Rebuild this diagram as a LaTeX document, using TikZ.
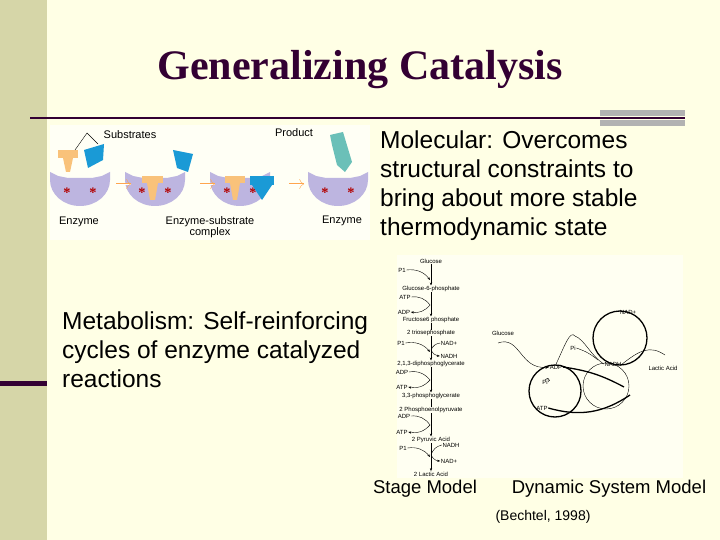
\documentclass[tikz,border=0pt]{standalone}
\usepackage{fontspec}
\setmainfont{Liberation Serif}
\setsansfont{Liberation Sans}
\usetikzlibrary{arrows.meta}
\definecolor{bg}{HTML}{FFFFE5}
\definecolor{bar}{HTML}{D6D6A8}
\definecolor{ttl}{HTML}{330033}
\definecolor{lav}{HTML}{BDB5E0}
\definecolor{org}{HTML}{F9C27A}
\definecolor{blu}{HTML}{1A9AD6}
\definecolor{teal}{HTML}{6BC0B8}
\begin{document}
\begin{tikzpicture}[x=1pt,y=-1pt,
  body/.style={font=\sffamily\fontsize{24.5}{29}\selectfont,align=left,anchor=north west,inner sep=0},
  tiny/.style={font=\sffamily\fontsize{6}{7}\selectfont,inner sep=0.5},
  lab/.style={font=\sffamily\fontsize{11}{11.5}\selectfont,inner sep=0},
  captxt/.style={font=\sffamily\fontsize{18.5}{22}\selectfont,inner sep=0},
  ar/.style={-{Stealth[length=3pt]},thin},
  cyc/.style={line width=1.3pt}]
\useasboundingbox (0,0) rectangle (720,540);
\fill[bg] (0,0) rectangle (720,540);
\fill[bar] (0,0) rectangle (47,540);
\fill[ttl] (0,381) rectangle (47,386);
\node[font=\fontsize{42}{48}\selectfont\bfseries,text=ttl] (title) at (360,70) {Generalizing Catalysis};
\draw[ttl,line width=1.5pt] (30,118) -- (685,118);
\fill[gray!60] (600,110) rectangle (685,116);
\fill[gray!60] (600,120) rectangle (685,126);
% enzyme image
\fill[white!60!bg] (50,125) rectangle (370,240);
\foreach \cx/\nm in {80/e1,155/e2,240/e3,338/e4}{
  \fill[lav] (\cx-30,180) arc(180:0:30 and 26) -- (\cx+30,172) -- (\cx+22,176) -- (\cx+12,178) -- (\cx-12,178) -- (\cx-22,176) -- (\cx-30,172) -- cycle;
  \node[text=red!70!black,font=\bfseries\Large] (\nm a) at (\cx-13,193) {*};
  \node[text=red!70!black,font=\bfseries\Large] (\nm b) at (\cx+13,193) {*};
}
\fill[org] (58,150) rectangle (78,158); \fill[org] (63,158) -- (73,158) -- (70,172) -- (66,172) -- cycle;
\fill[blu] (84,150) -- (104,144) -- (103,160) -- (88,168) -- cycle;
\fill[blu] (173,150) -- (193,154) -- (188,172) -- (177,168) -- cycle;
\fill[org] (142,176) rectangle (163,183); \fill[org] (147,183) -- (158,183) -- (155,200) -- (150,200) -- cycle;
\fill[org] (225,176) rectangle (245,183); \fill[org] (230,183) -- (240,183) -- (237,200) -- (233,200) -- cycle;
\fill[blu] (250,176) rectangle (274,185); \fill[blu] (252,185) -- (272,185) -- (262,200) -- cycle;
\fill[teal] (330,135) -- (343,132) -- (352,162) -- (345,172) -- (337,165) -- (332,145) -- cycle;
\draw[thin] (75,150) -- (87,133) -- (98,144);
\node[lab] (sub) at (130,135) {Substrates};
\node[lab] (prod) at (294,133) {Product};
\node[lab] (en1) at (79,222) {Enzyme};
\node[lab,align=center] (esc) at (210,227) {Enzyme-substrate\\complex};
\node[lab] (en2) at (342,221) {Enzyme};
\foreach \x in {116,200,289}{\draw[->,double,orange!70] (\x,184) -- (\x+15,184);}
% texts
\node[body] (mol) at (380,131) {Molecular: Overcomes\\structural constraints to\\bring about more stable\\thermodynamic state};
\node[body] (met) at (62,312) {Metabolism: Self-reinforcing\\cycles of enzyme catalyzed\\reactions};
% stage model / dynamic image
\fill[white!50!bg] (397,255) rectangle (683,478);
\node[tiny] (s0) at (431,261) {Glucose};
\node[tiny] (s1) at (431,289) {Glucose-6-phosphate};
\node[tiny] (s2) at (431,320) {Fructose6 phosphate};
\node[tiny] (s3) at (431,333) {2 triosephosphate};
\node[tiny] (s4) at (431,364) {2,1,3-diphosphoglycerate};
\node[tiny] (s5) at (431,396) {3,3-phosphoglycerate};
\node[tiny] (s6) at (431,410) {2 Phosphoenolpyruvate};
\node[tiny] (s7) at (431,440) {2 Pyruvic Acid};
\node[tiny] (s8) at (431,474) {2 Lactic Acid};
\foreach \a/\b in {s0/s1,s1/s2,s3/s4,s4/s5,s6/s7,s7/s8}{\draw[ar] (\a) -- (\b);}
\draw[thin] (s2) -- (s3); \draw[thin] (s5) -- (s6);
\node[tiny] (p1) at (402,270) {P1}; \draw[ar] (p1.east) to[bend left=30] (430,280);
\node[tiny] (atp1) at (405,297) {ATP}; \node[tiny] (adp1) at (404,312) {ADP};
\draw[ar] (atp1.east) to[bend left=30] (430,305) to[bend left=30] (adp1.east);
\node[tiny] (p2) at (401,343) {P1}; \node[tiny] (nad1) at (449,343) {NAD+}; \node[tiny] (nadh1) at (449,356) {NADH};
\draw[ar] (p2.east) to[bend left=30] (430,352); \draw[ar] (nad1.west) to[bend right=30] (431,350) to[bend right=30] (nadh1.west);
\node[tiny] (adp2) at (402,372) {ADP}; \node[tiny] (atp2) at (402,387) {ATP};
\draw[ar] (adp2.east) to[bend left=30] (430,380) to[bend left=30] (atp2.east);
\node[tiny] (adp3) at (404,416) {ADP}; \node[tiny] (atp3) at (402,432) {ATP};
\draw[ar] (adp3.east) to[bend left=30] (430,425) to[bend left=30] (atp3.east);
\node[tiny] (p3) at (403,448) {P1}; \node[tiny] (nadh2) at (451,445) {NADH}; \node[tiny] (nad2) at (449,461) {NAD+};
\draw[ar] (p3.east) to[bend left=30] (430,457); \draw[ar] (nadh2.west) to[bend right=30] (431,455) to[bend right=30] (nad2.west);
% dynamic
\node[tiny] (glc) at (503,333) {Glucose};
\node[tiny] (adp) at (556,367) {ADP};
\node[tiny] (atp) at (542,408) {ATP};
\node[tiny] (pi1) at (545,382) {Pi};
\node[tiny] (pi2) at (573,348) {Pi};
\node[tiny] (nadp) at (628,312) {NAD+};
\node[tiny] (nadh) at (613,364) {NADH};
\node[tiny] (lac) at (663,368) {Lactic Acid};
\draw[cyc] (555,391) circle (26);
\draw[cyc] (620,338) circle (27);
\draw[thin] (606,386) circle (23);
\draw[cyc] (adp.east) to[bend left=10] (624,387);
\draw[cyc] (atp.east) to[bend right=25] (630,395);
\draw[thin,-{Stealth[length=4pt]}] (498,343) .. controls (520,335) and (520,370) .. (adp.west);
\draw[thin] (adp.north) .. controls (565,345) and (570,330) .. (575,336) .. controls (585,340) and (590,355) .. (nadh.west);
\draw[thin] (nadh.east) .. controls (640,350) and (650,345) .. (665,355);
\draw[thin,->] (pi1.east) to[bend left=20] (548,378);
\draw[thin] (pi2.east) to[bend left=10] (598,360);
% captions
\node[captxt] (stage) at (425,489) {Stage Model};
\node[captxt] (dyn) at (609,489) {Dynamic System Model};
\node[font=\sffamily\fontsize{14}{16}\selectfont,inner sep=0] (cite) at (543,517) {(Bechtel, 1998)};
\end{tikzpicture}
\end{document}
